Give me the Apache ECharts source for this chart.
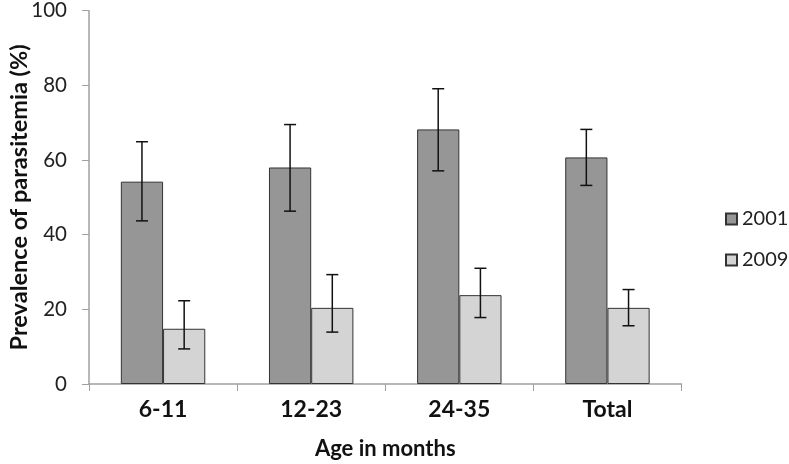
<!DOCTYPE html>
<html><head><meta charset="utf-8">
<script src="https://cdn.jsdelivr.net/npm/echarts@6/dist/echarts.min.js"></script>
<style>html,body{margin:0;padding:0;background:#fff}#c{width:789px;height:464px}</style>
</head><body><div id="c"></div>
<script>
const categories = ['6-11', '12-23', '24-35', 'Total'];
const seriesNames = ['2001', '2009'];
const values2001 = [54.2, 58.0, 68.2, 60.7];
const values2009 = [14.8, 20.4, 23.8, 20.4];
const low2001 = [43.7, 46.3, 57.1, 53.2];
const high2001 = [64.9, 69.5, 79.1, 68.2];
const low2009 = [9.4, 13.9, 17.8, 15.6];
const high2009 = [22.3, 29.3, 31.0, 25.3];
const yTicks = [0, 20, 40, 60, 80, 100];

const FONT = 'Lato';
const CAT_GAP = 0.43;

function errSeries(lows, highs, side) {
  return {
    type: 'custom',
    z: 10,
    silent: true,
    data: categories.map((c, i) => [i, lows[i], highs[i]]),
    renderItem: function (params, api) {
      const idx = api.value(0);
      const lo = api.coord([idx, api.value(1)]);
      const hi = api.coord([idx, api.value(2)]);
      const band = api.size([1, 0])[0];
      const bw = band * (1 - CAT_GAP) / 2;
      const x = lo[0] + side * bw / 2;
      const cap = 6;
      const st = { stroke: '#111', lineWidth: 1.5 };
      return {
        type: 'group',
        children: [
          { type: 'line', shape: { x1: x, y1: hi[1], x2: x, y2: lo[1] }, style: st },
          { type: 'line', shape: { x1: x - cap, y1: hi[1], x2: x + cap, y2: hi[1] }, style: st },
          { type: 'line', shape: { x1: x - cap, y1: lo[1], x2: x + cap, y2: lo[1] }, style: st }
        ]
      };
    }
  };
}

const chart = echarts.init(document.getElementById('c'), null, { renderer: 'canvas' });
chart.setOption({
  animation: false,
  backgroundColor: '#fff',
  textStyle: { fontFamily: FONT },
  grid: { left: 89, right: 107.5, top: 10.7, bottom: 80, containLabel: false, outerBoundsMode: 'none' },
  legend: {
    data: seriesNames,
    orient: 'vertical',
    left: 720,
    top: 204,
    itemWidth: 11,
    itemHeight: 11,
    itemGap: 21,
    icon: 'rect',
    textStyle: { fontFamily: FONT, fontSize: 20, color: '#222' }
  },
  xAxis: {
    type: 'category',
    data: categories,
    name: 'Age in months',
    nameLocation: 'middle',
    nameGap: 54,
    nameMoveOverlap: false,
    nameTextStyle: { fontFamily: FONT, fontSize: 22, fontWeight: 'bold', color: '#111' },
    axisLine: { lineStyle: { color: '#a0a0a0', width: 1.5 } },
    axisTick: { show: true, length: 7, lineStyle: { color: '#a0a0a0' } },
    axisLabel: { fontFamily: FONT, fontSize: 23, fontWeight: 'bold', color: '#111', margin: 14 }
  },
  yAxis: {
    type: 'value',
    min: yTicks[0],
    max: yTicks[yTicks.length - 1],
    interval: yTicks[1] - yTicks[0],
    name: 'Prevalence of parasitemia (%)',
    nameLocation: 'middle',
    nameGap: 58,
    nameMoveOverlap: false,
    nameTextStyle: { fontFamily: FONT, fontSize: 23.5, fontWeight: 'bold', color: '#111' },
    splitLine: { show: false },
    axisLine: { show: true, lineStyle: { color: '#a0a0a0', width: 1.5 } },
    axisTick: { show: true, length: 7, lineStyle: { color: '#a0a0a0' } },
    axisLabel: { fontFamily: FONT, fontSize: 20.5, color: '#222', margin: 22 }
  },
  series: [
    {
      name: seriesNames[0], type: 'bar', data: values2001,
      barGap: '0%', barCategoryGap: (CAT_GAP * 100) + '%',
      itemStyle: { color: '#969696', borderColor: '#333', borderWidth: 1 }
    },
    {
      name: seriesNames[1], type: 'bar', data: values2009,
      itemStyle: { color: '#d4d4d4', borderColor: '#333', borderWidth: 1 }
    },
    errSeries(low2001, high2001, -1),
    errSeries(low2009, high2009, 1)
  ]
});
</script></body></html>
